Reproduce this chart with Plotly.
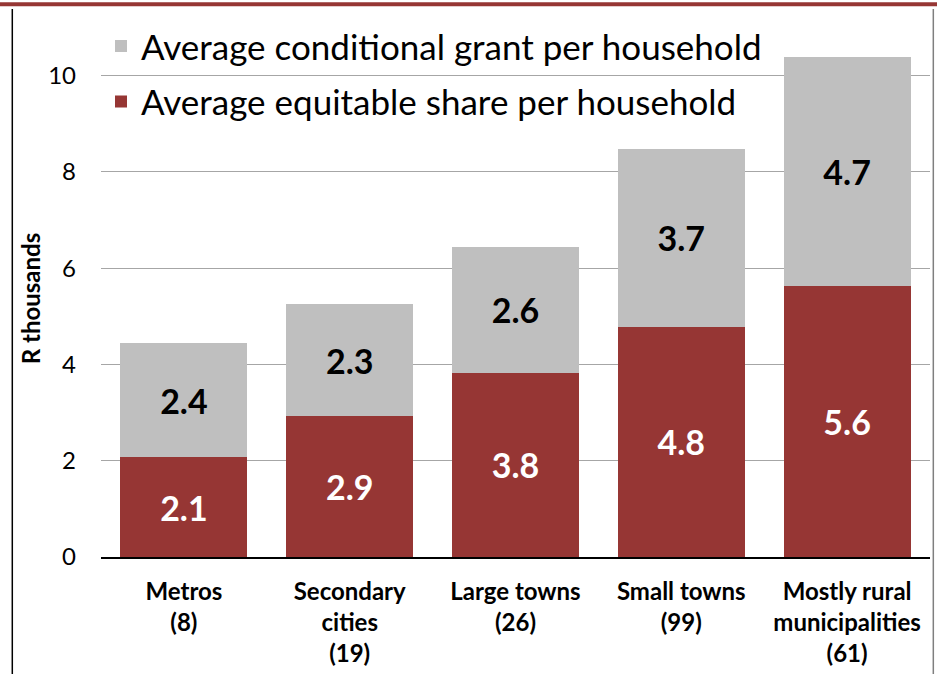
import plotly.graph_objects as go

categories = ["Metros<br>(8)", "Secondary<br>cities<br>(19)", "Large towns<br>(26)",
              "Small towns<br>(99)", "Mostly rural<br>municipalities<br>(61)"]
equitable_share = [2.07, 2.93, 3.83, 4.78, 5.64]
conditional_grant = [2.37, 2.32, 2.61, 3.70, 4.74]

RED = "#963634"
GREY = "#BFBFBF"
FONT = "Lato"

fig = go.Figure()
fig.add_trace(go.Bar(
    x=categories, y=equitable_share,
    name="Average equitable share per household", legendgroup="a", legendrank=2,
    marker=dict(color=RED, line=dict(width=0)),
    texttemplate="%{y:.1f}", textposition="inside", insidetextanchor="middle",
    textangle=0, textfont=dict(family=FONT, size=34, color="white", weight="bold"),
))
fig.add_trace(go.Bar(
    x=categories, y=conditional_grant,
    name="Average conditional grant per household", legendgroup="b", legendrank=1,
    marker=dict(color=GREY, line=dict(width=0)),
    texttemplate="%{y:.1f}", textposition="inside", insidetextanchor="middle",
    textangle=0, textfont=dict(family=FONT, size=34, color="black", weight="bold"),
))

# frame: dark red rule on top, black line left, grey line right
fig.add_shape(type="line", xref="paper", yref="paper", x0=-0.13, x1=1.01, y0=1.069, y1=1.069,
              line=dict(color=RED, width=4))
fig.add_shape(type="line", xref="paper", yref="paper", x0=-0.107, x1=-0.107, y0=1.06, y1=-0.23,
              line=dict(color="black", width=1.5))
fig.add_shape(type="line", xref="paper", yref="paper", x0=1.004, x1=1.004, y0=1.06, y1=-0.23,
              line=dict(color="#7F7F7F", width=1.5))

fig.update_layout(
    width=937, height=674,
    margin=dict(l=101, r=7, t=40, b=114),
    barmode="stack", bargap=0.235,
    plot_bgcolor="white", paper_bgcolor="white",
    font=dict(family=FONT, color="black"),
    showlegend=True,
    legend=dict(x=0, y=1.045, xanchor="left", yanchor="top", bgcolor="rgba(0,0,0,0)",
                font=dict(family=FONT, size=35, color="black"), traceorder="grouped",
                itemwidth=30, tracegroupgap=7),
    xaxis=dict(showline=True, linecolor="black", linewidth=2, ticks="",
               ticklabelstandoff=12,
               tickfont=dict(family=FONT, size=24, weight="bold")),
    yaxis=dict(range=[0, 10.74], tickvals=[0, 2, 4, 6, 8, 10], showgrid=True,
               gridcolor="#A6A6A6", gridwidth=1, zeroline=False, ticks="",
               tickfont=dict(family=FONT, size=24), ticklabelstandoff=24,
               title=dict(text="R thousands", font=dict(family=FONT, size=24, weight="bold"),
                          standoff=0)),
)

fig.write_html("out.html", config={"displayModeBar": False},
               post_script="document.body.style.margin='0';")
